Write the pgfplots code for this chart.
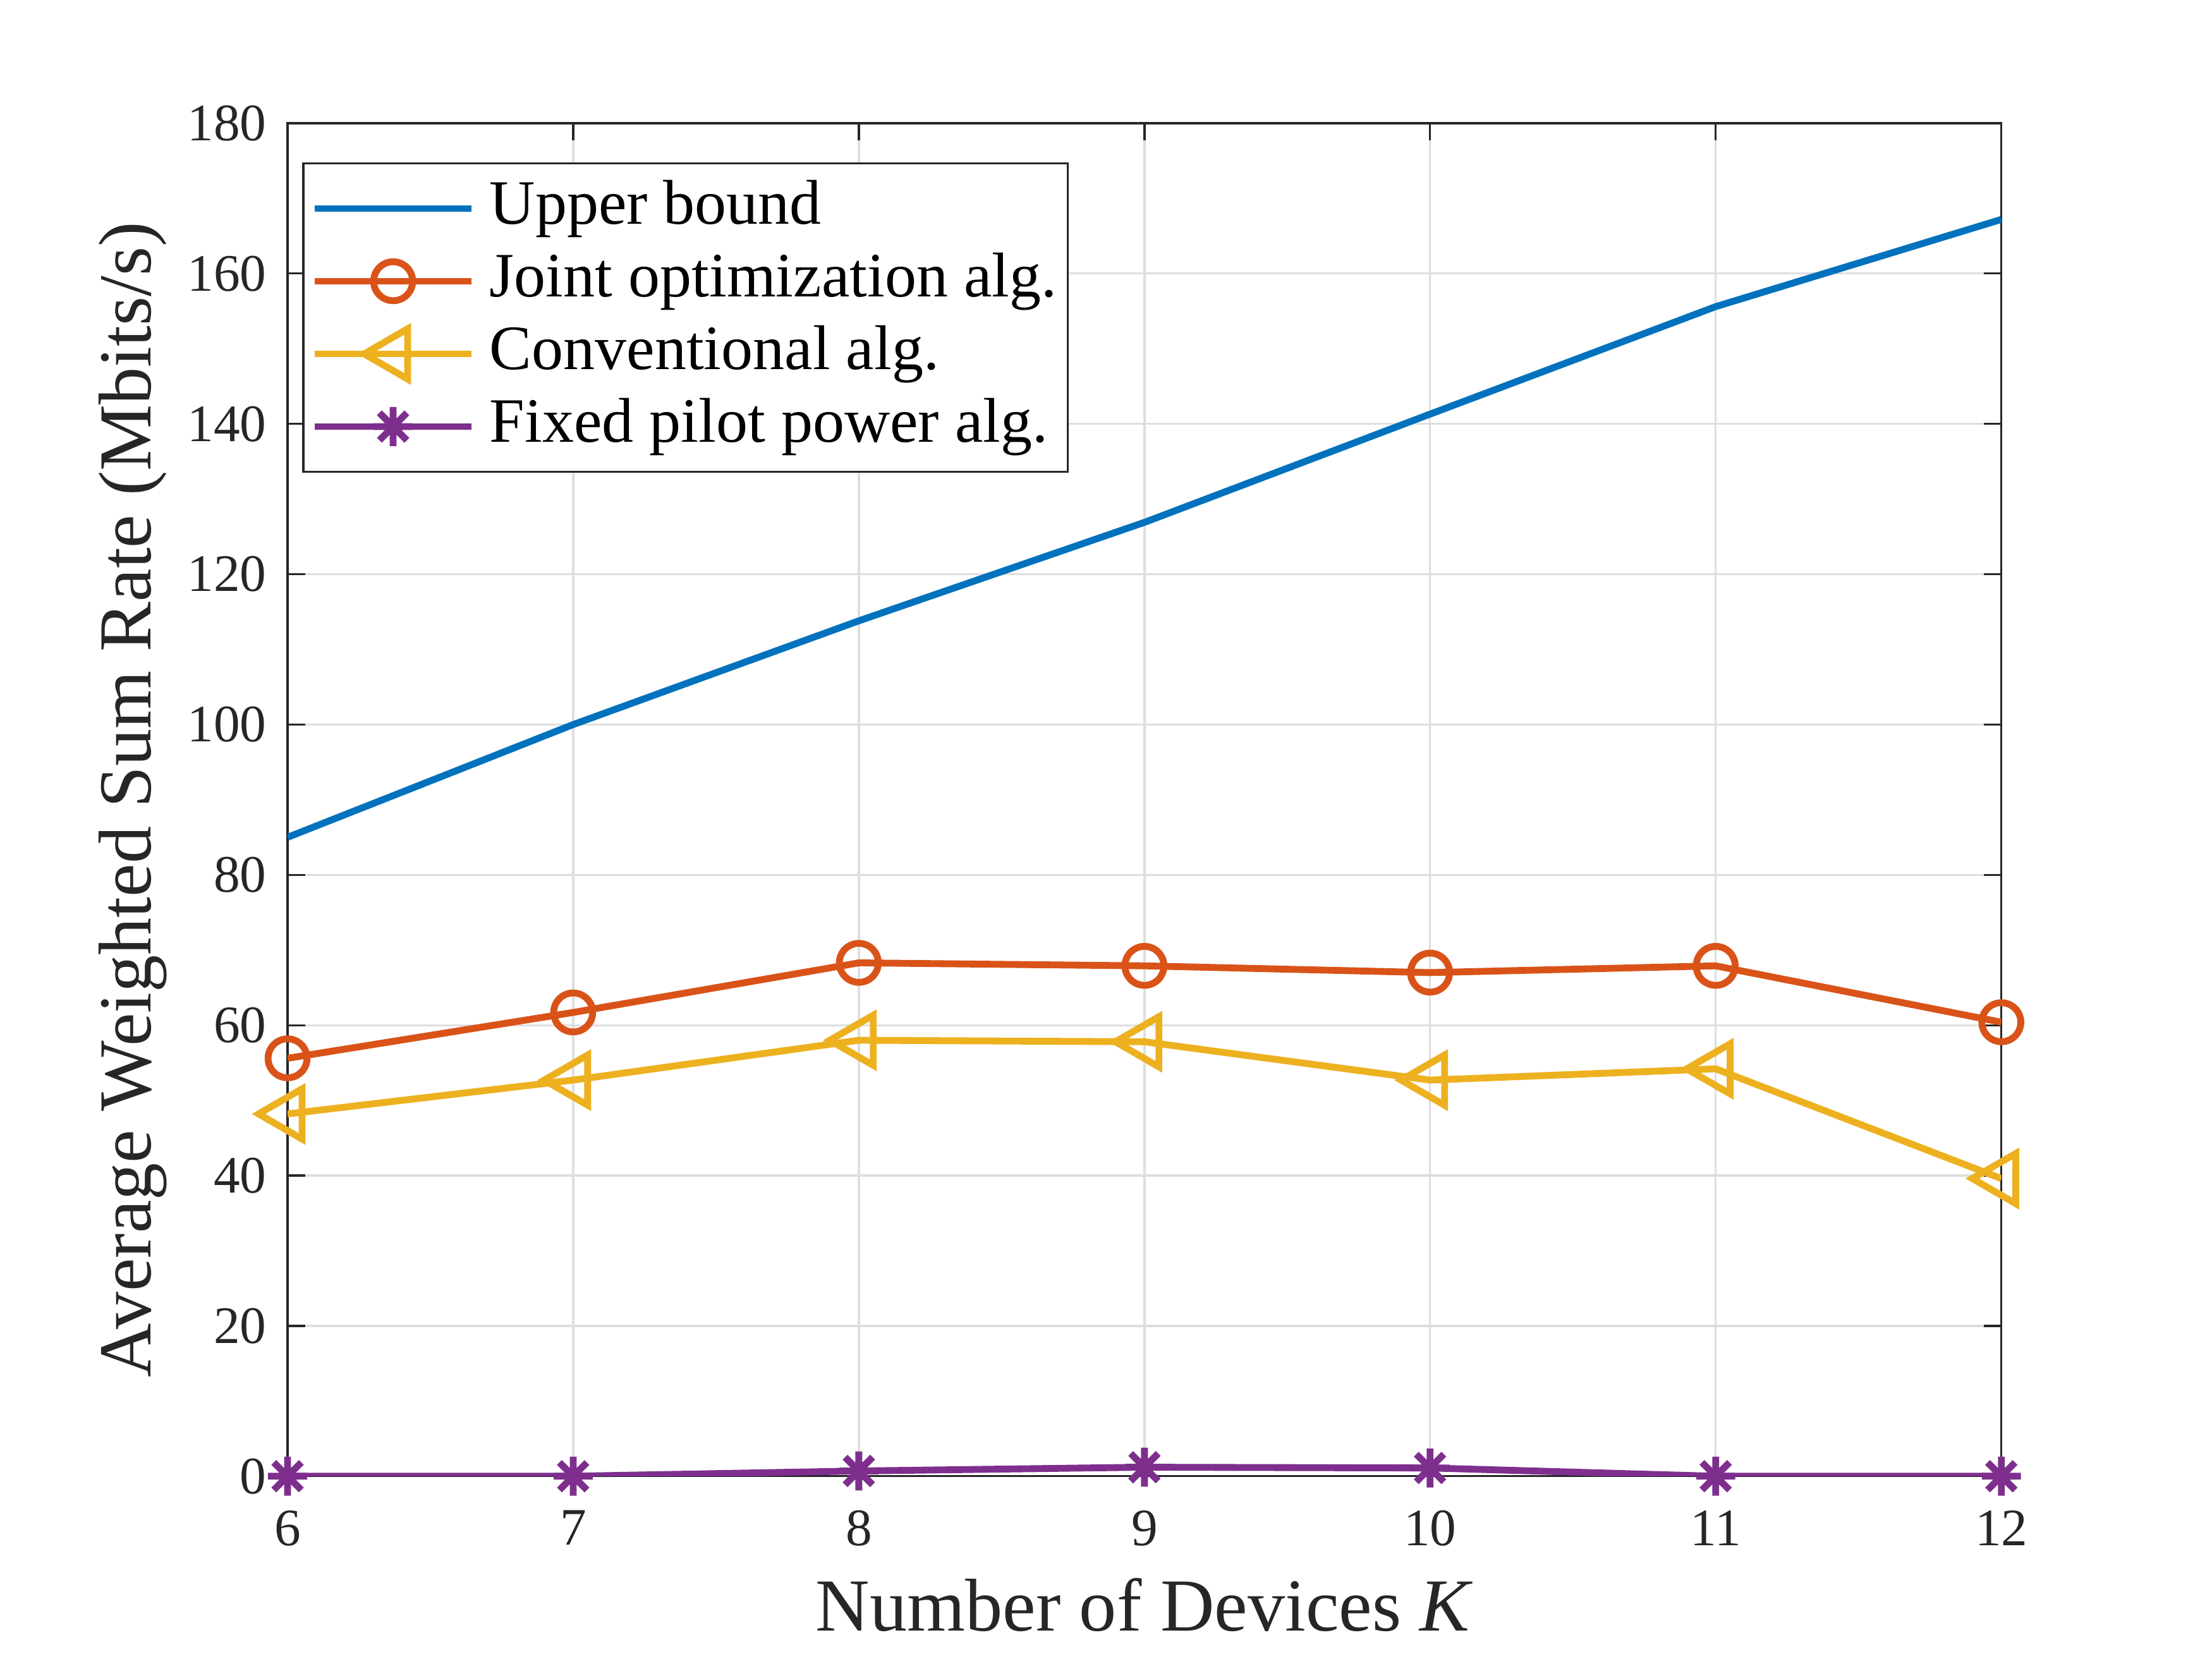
\documentclass[border=0pt]{standalone}
\usepackage{fontspec}
\setmainfont{Liberation Serif}
\usepackage{pgfplots}
\pgfplotsset{compat=1.18}
\usetikzlibrary{calc}
\definecolor{c1}{rgb}{0,0.447,0.741}
\definecolor{c2}{rgb}{0.85,0.325,0.098}
\definecolor{c3}{rgb}{0.929,0.694,0.125}
\definecolor{c4}{rgb}{0.494,0.184,0.556}
\pgfdeclareplotmark{ast8}{%
  \pgfpathmoveto{\pgfqpoint{0pt}{\pgfplotmarksize}}\pgfpathlineto{\pgfqpoint{0pt}{-\pgfplotmarksize}}%
  \pgfpathmoveto{\pgfqpoint{\pgfplotmarksize}{0pt}}\pgfpathlineto{\pgfqpoint{-\pgfplotmarksize}{0pt}}%
  \pgfpathmoveto{\pgfqpoint{0.7071\pgfplotmarksize}{0.7071\pgfplotmarksize}}\pgfpathlineto{\pgfqpoint{-0.7071\pgfplotmarksize}{-0.7071\pgfplotmarksize}}%
  \pgfpathmoveto{\pgfqpoint{-0.7071\pgfplotmarksize}{0.7071\pgfplotmarksize}}\pgfpathlineto{\pgfqpoint{0.7071\pgfplotmarksize}{-0.7071\pgfplotmarksize}}%
  \pgfusepathqstroke}
\begin{document}
\begin{tikzpicture}
\begin{axis}[
  name=ax,
  at={(0,0)}, anchor=south west,
  scale only axis,
  width=325.4pt, height=256.9pt,
  xmin=6, xmax=12, ymin=0, ymax=180,
  xtick={6,7,8,9,10,11,12},
  ytick={0,20,40,60,80,100,120,140,160,180},
  tick align=inside,
  major tick length=3.3pt,
  tick style={line width=0.4pt, color=black!85},
  axis line style={line width=0.4pt, color=black!85},
  grid=major,
  grid style={line width=0.4pt, color=black!13},
  ticklabel style={font=\fontsize{10}{12}\selectfont, color=black!85},
  xticklabel style={yshift=-3pt},
  yticklabel style={xshift=-0.5pt},
  /pgf/number format/assume math mode=true,
  xlabel={Number of Devices \textit{K}},
  ylabel={Average Weighted Sum Rate (Mbits/s)},
  label style={font=\fontsize{14.2}{16}\selectfont, color=black!85},
  xlabel style={yshift=0.8pt},
  ylabel style={yshift=-3pt},
  legend style={at={(rel axis cs:0,1)}, anchor=north west, xshift=2.8pt, yshift=-7.4pt,
    font=\fontsize{12}{14}\selectfont, draw=black!85, line width=0.4pt,
    row sep=0pt, inner xsep=1.5pt, inner ysep=1.7pt,
    nodes={inner sep=0.6pt, text height=9.3pt, text depth=3.3pt},
    /tikz/every odd column/.append style={column sep=2.2pt},
    cells={anchor=west}},
  legend image code/.code={\draw[mark repeat=2,mark phase=2] plot coordinates {(0pt,0pt) (14.9pt,0pt) (29.8pt,0pt)};},
  every axis plot/.append style={line width=1.3pt},
]
\addplot[c1] coordinates {(6,85.0) (7,100.0) (8,113.8) (9,126.9) (10,141.3) (11,155.6) (12,167.2)};
\addlegendentry{Upper bound}
\addplot[c2, mark=o, mark size=3.7pt, mark options={solid}] coordinates {(6,55.6) (7,61.7) (8,68.3) (9,67.9) (10,67.0) (11,67.9) (12,60.4)};
\addlegendentry{Joint optimization alg.}
\addplot[c3, mark=triangle, mark size=5.5pt, mark options={solid, rotate=90}] coordinates {(6,48.2) (7,52.7) (8,58.0) (9,57.8) (10,52.7) (11,54.2) (12,39.6)};
\addlegendentry{Conventional alg.}
\addplot[c4, mark=ast8, mark size=3.7pt, mark options={solid}] coordinates {(6,0) (7,0) (8,0.7) (9,1.2) (10,1.1) (11,0) (12,0)};
\addlegendentry{Fixed pilot power alg.}
\end{axis}
\pgfresetboundingbox
\path[use as bounding box] ($(ax.south west)+(-54.6pt,-34.7pt)$) rectangle ($(ax.north east)+(40pt,23.4pt)$);
\end{tikzpicture}
\end{document}
